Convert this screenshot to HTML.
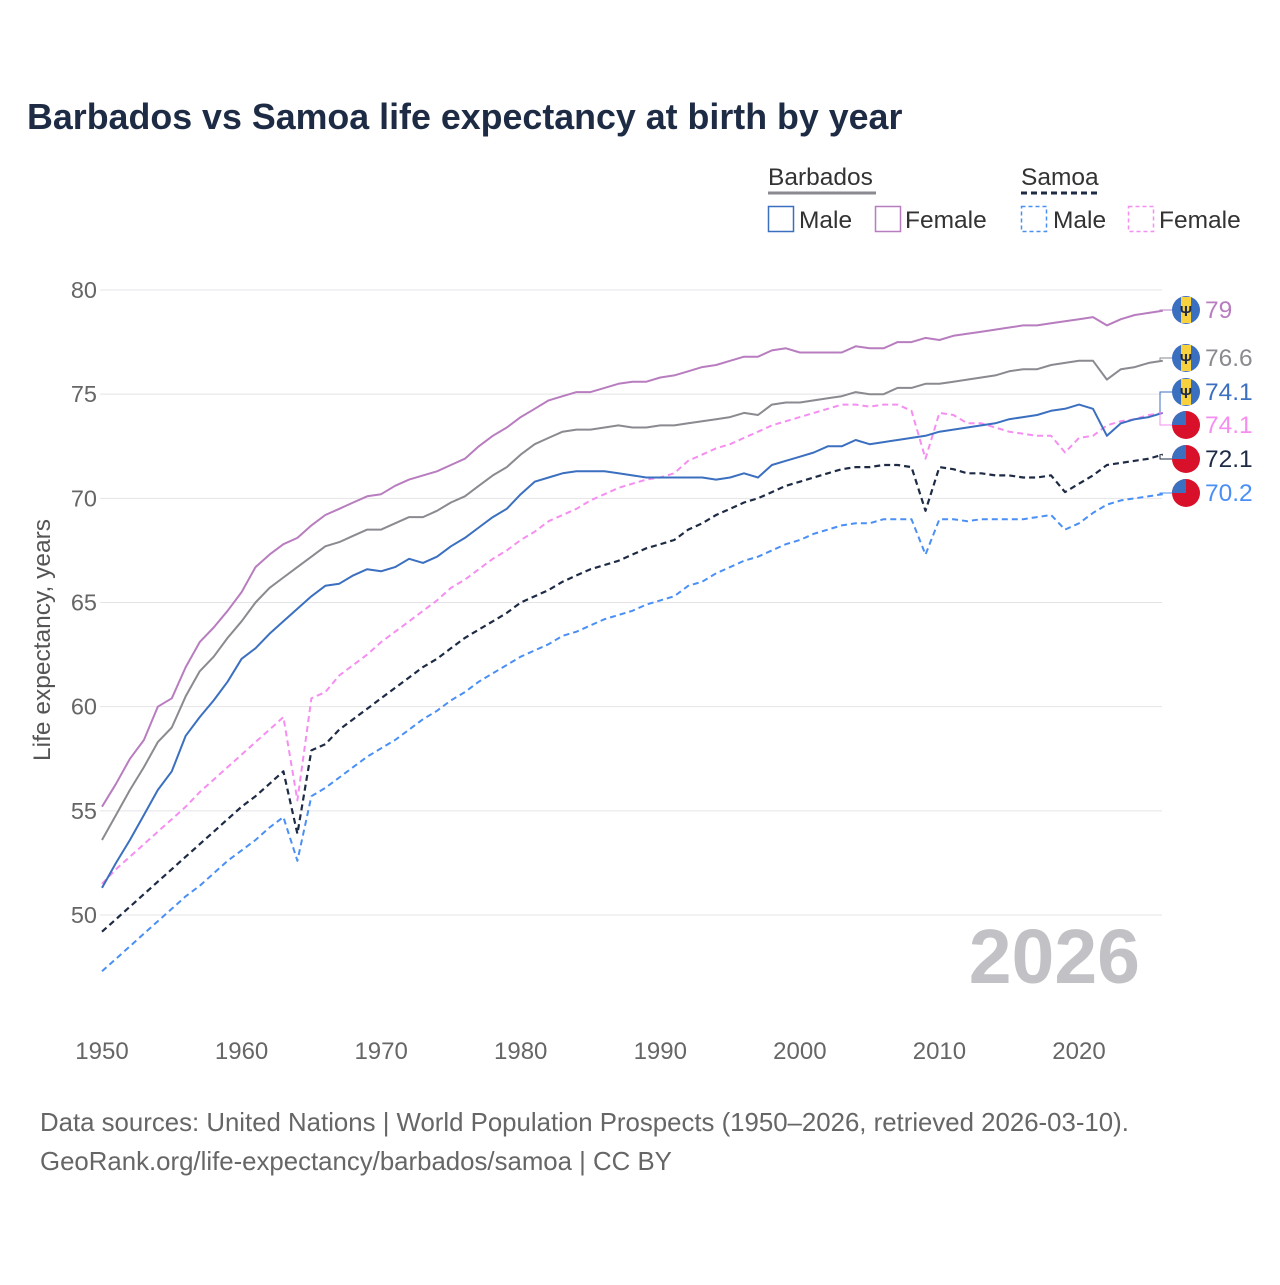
<!DOCTYPE html>
<html><head><meta charset="utf-8"><style>
body{margin:0;background:#fff;font-family:"Liberation Sans",sans-serif;}
svg text{font-family:"Liberation Sans",sans-serif;}
</style></head><body>
<svg id="c" width="1280" height="1280" viewBox="0 0 1280 1280">
<text x="27" y="129" font-size="35.8" font-weight="bold" fill="#1e2b45">Barbados vs Samoa life expectancy at birth by year</text>
<g>
<text x="768" y="185" font-size="24.5" fill="#333">Barbados</text>
<line x1="768" y1="193" x2="876" y2="193" stroke="#8a8a90" stroke-width="3"/>
<text x="1021" y="185" font-size="24.5" fill="#333">Samoa</text>
<line x1="1021" y1="193" x2="1097" y2="193" stroke="#1e2b45" stroke-width="3" stroke-dasharray="6,4"/>
<rect x="768.5" y="206.5" width="25" height="25" fill="none" stroke="#3b6fbf" stroke-width="1.5"/>
<text x="799" y="228" font-size="24.5" fill="#333">Male</text>
<rect x="875.5" y="206.5" width="25" height="25" fill="none" stroke="#b87dbf" stroke-width="1.5"/>
<text x="905" y="228" font-size="24.5" fill="#333">Female</text>
<rect x="1021.5" y="206.5" width="25" height="25" fill="none" stroke="#4a8ff5" stroke-width="1.5" stroke-dasharray="4,3"/>
<text x="1053" y="228" font-size="24.5" fill="#333">Male</text>
<rect x="1128.5" y="206.5" width="25" height="25" fill="none" stroke="#f58ef0" stroke-width="1.5" stroke-dasharray="4,3"/>
<text x="1159" y="228" font-size="24.5" fill="#333">Female</text>
</g>
<g id="grid"></g>
<text x="1140" y="983" font-size="77" font-weight="bold" fill="#c2c2c6" text-anchor="end">2026</text>
<g id="lines"></g>
<g id="labels"></g>
<text transform="translate(50,640) rotate(-90)" font-size="24.5" fill="#555" text-anchor="middle">Life expectancy, years</text>
<text x="40" y="1131" font-size="25.8" fill="#666">Data sources: United Nations | World Population Prospects (1950–2026, retrieved 2026-03-10).</text>
<text x="40" y="1170" font-size="25.8" fill="#666">GeoRank.org/life-expectancy/barbados/samoa | CC BY</text>
</svg>
<script>
const startYear = 1950;
const yTicks = [50,55,60,65,70,75,80];
const xTicks = [1950,1960,1970,1980,1990,2000,2010,2020];
const bbFemale = [55.2,56.3,57.5,58.4,60.0,60.4,61.9,63.1,63.8,64.6,65.5,66.7,67.3,67.8,68.1,68.7,69.2,69.5,69.8,70.1,70.2,70.6,70.9,71.1,71.3,71.6,71.9,72.5,73.0,73.4,73.9,74.3,74.7,74.9,75.1,75.1,75.3,75.5,75.6,75.6,75.8,75.9,76.1,76.3,76.4,76.6,76.8,76.8,77.1,77.2,77.0,77.0,77.0,77.0,77.3,77.2,77.2,77.5,77.5,77.7,77.6,77.8,77.9,78.0,78.1,78.2,78.3,78.3,78.4,78.5,78.6,78.7,78.3,78.6,78.8,78.9,79.0];
const bbTotal = [53.6,54.8,56.0,57.1,58.3,59.0,60.5,61.7,62.4,63.3,64.1,65.0,65.7,66.2,66.7,67.2,67.7,67.9,68.2,68.5,68.5,68.8,69.1,69.1,69.4,69.8,70.1,70.6,71.1,71.5,72.1,72.6,72.9,73.2,73.3,73.3,73.4,73.5,73.4,73.4,73.5,73.5,73.6,73.7,73.8,73.9,74.1,74.0,74.5,74.6,74.6,74.7,74.8,74.9,75.1,75.0,75.0,75.3,75.3,75.5,75.5,75.6,75.7,75.8,75.9,76.1,76.2,76.2,76.4,76.5,76.6,76.6,75.7,76.2,76.3,76.5,76.6];
const bbMale = [51.3,52.5,53.6,54.8,56.0,56.9,58.6,59.5,60.3,61.2,62.3,62.8,63.5,64.1,64.7,65.3,65.8,65.9,66.3,66.6,66.5,66.7,67.1,66.9,67.2,67.7,68.1,68.6,69.1,69.5,70.2,70.8,71.0,71.2,71.3,71.3,71.3,71.2,71.1,71.0,71.0,71.0,71.0,71.0,70.9,71.0,71.2,71.0,71.6,71.8,72.0,72.2,72.5,72.5,72.8,72.6,72.7,72.8,72.9,73.0,73.2,73.3,73.4,73.5,73.6,73.8,73.9,74.0,74.2,74.3,74.5,74.3,73.0,73.6,73.8,73.9,74.1];
const wsFemale = [51.5,52.2,52.8,53.4,54.0,54.6,55.2,55.9,56.5,57.1,57.7,58.3,58.9,59.5,55.5,60.4,60.7,61.5,62.0,62.5,63.1,63.6,64.1,64.6,65.1,65.7,66.1,66.6,67.1,67.5,68.0,68.4,68.9,69.2,69.5,69.9,70.2,70.5,70.7,70.9,71.0,71.2,71.8,72.1,72.4,72.6,72.9,73.2,73.5,73.7,73.9,74.1,74.3,74.5,74.5,74.4,74.5,74.5,74.2,71.9,74.1,74.0,73.6,73.6,73.4,73.2,73.1,73.0,73.0,72.2,72.9,73.0,73.5,73.7,73.8,74.0,74.1];
const wsTotal = [49.2,49.8,50.4,51.0,51.6,52.2,52.8,53.4,54.0,54.6,55.2,55.7,56.3,56.9,53.9,57.9,58.2,58.9,59.4,59.9,60.4,60.9,61.4,61.9,62.3,62.8,63.3,63.7,64.1,64.5,65.0,65.3,65.6,66.0,66.3,66.6,66.8,67.0,67.3,67.6,67.8,68.0,68.5,68.8,69.2,69.5,69.8,70.0,70.3,70.6,70.8,71.0,71.2,71.4,71.5,71.5,71.6,71.6,71.5,69.4,71.5,71.4,71.2,71.2,71.1,71.1,71.0,71.0,71.1,70.3,70.7,71.1,71.6,71.7,71.8,71.9,72.1];
const wsMale = [47.3,47.9,48.5,49.1,49.7,50.3,50.9,51.4,52.0,52.6,53.1,53.6,54.2,54.7,52.6,55.7,56.1,56.6,57.1,57.6,58.0,58.4,58.9,59.4,59.8,60.3,60.7,61.2,61.6,62.0,62.4,62.7,63.0,63.4,63.6,63.9,64.2,64.4,64.6,64.9,65.1,65.3,65.8,66.0,66.4,66.7,67.0,67.2,67.5,67.8,68.0,68.3,68.5,68.7,68.8,68.8,69.0,69.0,69.0,67.3,69.0,69.0,68.9,69.0,69.0,69.0,69.0,69.1,69.2,68.5,68.8,69.3,69.7,69.9,70.0,70.1,70.2];

const NS='http://www.w3.org/2000/svg';
const X = yr => 102 + (yr-1950)*(977/70);
const Y = v => 290 + (80-v)*(625/30);
function mk(t,a,p){const e=document.createElementNS(NS,t);for(const k in a)e.setAttribute(k,a[k]);p.appendChild(e);return e;}
const grid=document.getElementById('grid');
yTicks.forEach(v=>{
  const l=mk('line',{x1:100,x2:1162,y1:Y(v),y2:Y(v),stroke:'#e4e4e8','stroke-width':1},grid);
  
  
  const t=mk('text',{x:97,y:Y(v)+8,'font-size':23.5,fill:'#666','text-anchor':'end'},grid);
  t.textContent=v;
  
  
});
xTicks.forEach(yr=>{
  const t=mk('text',{x:X(yr),y:1059,'font-size':24,fill:'#666','text-anchor':'middle'},grid);
  t.textContent=yr;
  
  
});
const series=[
 {d:wsMale,c:'#4a8ff5',dash:'6,4',n:'samoa-male-line',w:2},
 {d:wsFemale,c:'#f58ef0',dash:'6,4',n:'samoa-female-line',w:2},
 {d:wsTotal,c:'#1e2b45',dash:'6,4',n:'samoa-total-line',w:2.2},
 {d:bbMale,c:'#3b6fbf',dash:null,n:'barbados-male-line',w:2},
 {d:bbTotal,c:'#8a8a90',dash:null,n:'barbados-total-line',w:2},
 {d:bbFemale,c:'#b87dbf',dash:null,n:'barbados-female-line',w:2},
];
const lg=document.getElementById('lines');
series.forEach(s=>{
  const pts=s.d.map((v,i)=>X(startYear+i).toFixed(1)+','+Y(v).toFixed(1)).join(' ');
  const a={points:pts,fill:'none',stroke:s.c,'stroke-width':s.w,'stroke-linejoin':'round'};
  if(s.dash)a['stroke-dasharray']=s.dash;
  const p=mk('polyline',a,lg);
  
  
});
const lab=document.getElementById('labels');
const ends=[
 {d:bbFemale,c:'#b87dbf',y:310,f:'bb'},
 {d:bbTotal,c:'#8a8a90',y:358,f:'bb'},
 {d:bbMale,c:'#3b6fbf',y:392,f:'bb',lc:'#3b6fbf'},
 {d:wsFemale,c:'#f58ef0',y:425,f:'ws',lc:'#f58ef0'},
 {d:wsTotal,c:'#1e2b45',y:459,f:'ws',lc:'#1e2b45'},
 {d:wsMale,c:'#4a8ff5',y:493,f:'ws'},
];
ends.forEach(e=>{
  const v=e.d[e.d.length-1];
  const x0=X(startYear+e.d.length-1), y0=Y(v);
  mk('polyline',{points:`${x0},${y0} 1160,${y0} 1160,${e.y} 1172,${e.y}`,fill:'none',stroke:e.lc||e.c,'stroke-width':1},lab);
  const g=mk('g',{},lab);
  
  
  const cx=1186,cy=e.y,r=14;
  if(e.f==='bb'){
    mk('circle',{cx,cy,r,fill:'#3b6fbf'},g);
    mk('rect',{x:cx-5,y:cy-r+1,width:10,height:2*r-2,fill:'#f7d23e'},g);
    const t=mk('text',{x:cx,y:cy+6,'font-size':15,'font-weight':'bold',fill:'#1e2b45','text-anchor':'middle'},g);t.textContent='Ψ';
  }else{
    mk('circle',{cx,cy,r,fill:'#d8102a'},g);
    mk('path',{d:`M${cx-r} ${cy} A${r} ${r} 0 0 1 ${cx} ${cy-r} L${cx} ${cy} Z`,fill:'#3b6fbf'},g);
  }
  const t=mk('text',{x:1205,y:e.y+8,'font-size':24.5,fill:e.c},lab);
  t.textContent=v;
  
  
});
</script>
</body></html>
